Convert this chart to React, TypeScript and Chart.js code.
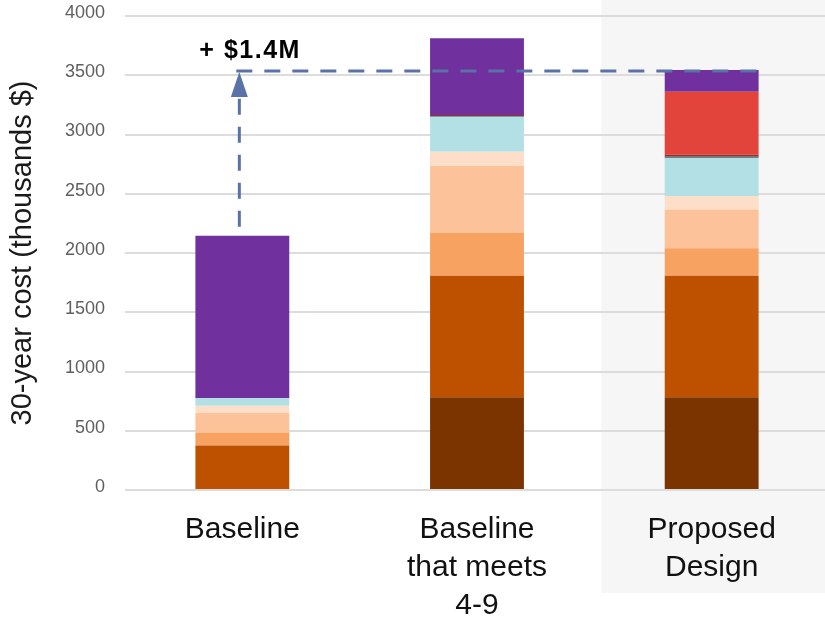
import React, { useEffect, useRef } from 'react';
import { Chart, registerables } from 'chart.js';

Chart.register(...registerables);

// ---- data ----
const categories: string[][] = [['Baseline'], ['Baseline', 'that meets', '4-9'], ['Proposed', 'Design']];

const seriesNames = [
  'Cost A', 'Cost B', 'Cost C', 'Cost D', 'Cost E',
  'Cost F', 'Cost G', 'Cost H', 'Cost I', 'Cost J',
];
const darkBrownValues = [0, 782, 782];
const darkOrangeValues = [375, 1026, 1026];
const mediumOrangeValues = [110, 361, 232];
const lightPeachValues = [164, 565, 328];
const palePeachValues = [62, 121, 113];
const lightBlueValues = [65, 290, 318];
const tealValues = [0, 10, 13];
const darkRedValues = [0, 10, 18];
const redValues = [0, 0, 531];
const purpleValues = [1369, 647, 183];

const seriesColors = [
  '#7B3400', '#BD5100', '#F8A262', '#FCC39A', '#FCDEC9',
  '#B2E0E5', '#4B8F95', '#9E2C2E', '#E2433A', '#70309E',
];

const yMin = 0;
const yMax = 4000;
const yStep = 500;
const yTitle = '30-year cost (thousands $)';

const allSeries = [
  darkBrownValues, darkOrangeValues, mediumOrangeValues, lightPeachValues, palePeachValues,
  lightBlueValues, tealValues, darkRedValues, redValues, purpleValues,
];

const FONT = '"Liberation Sans", Arial, Helvetica, sans-serif';

const bandPlugin = {
  id: 'band',
  beforeDraw(chart: any) {
    const { ctx, chartArea } = chart;
    const x = chart.scales.x;
    const c2 = x.getPixelForValue(2);
    const c1 = x.getPixelForValue(1);
    const left = c2 - (c2 - c1) * 0.47;
    ctx.save();
    ctx.fillStyle = '#F6F6F6';
    ctx.fillRect(left, 0, chart.width - left, chartArea.bottom + 103);
    ctx.restore();
  },
};

const annotationPlugin = {
  id: 'diffArrow',
  afterDatasetsDraw(chart: any) {
    const { ctx } = chart;
    const y = chart.scales.y;
    const totals = categories.map((_, i) => allSeries.reduce((s, d) => s + d[i], 0));
    const meta = chart.getDatasetMeta(allSeries.length - 1);
    const bar0 = meta.data[0];
    const bar2 = meta.data[2];
    const x0 = bar0.x - 3;
    const yTop = y.getPixelForValue(totals[2]);
    const yB = y.getPixelForValue(totals[0]);
    const color = '#5A72A8';
    ctx.save();
    ctx.strokeStyle = color;
    ctx.lineWidth = 3;
    ctx.setLineDash([16, 12]);
    ctx.beginPath();
    ctx.moveTo(x0, yB - 9);
    ctx.lineTo(x0, yTop + 27);
    ctx.stroke();
    ctx.beginPath();
    ctx.moveTo(x0 - 3, yTop + 1);
    ctx.lineTo(bar2.x + bar2.width / 2, yTop + 1);
    ctx.stroke();
    ctx.setLineDash([]);
    ctx.fillStyle = color;
    ctx.beginPath();
    ctx.moveTo(x0, yTop + 2);
    ctx.lineTo(x0 + 8.5, yTop + 27);
    ctx.lineTo(x0 - 8.5, yTop + 27);
    ctx.closePath();
    ctx.fill();
    const diff = (totals[2] - totals[0]) / 1000;
    ctx.fillStyle = '#000';
    ctx.font = `bold 25px ${FONT}`;
    try { (ctx as any).letterSpacing = '1.5px'; } catch (e) { /* ignore */ }
    ctx.textAlign = 'left';
    ctx.textBaseline = 'alphabetic';
    ctx.fillText(`+ $${diff.toFixed(1)}M`, x0 - 40, yTop - 12);
    ctx.restore();
  },
};

export default function App() {
  const canvasRef = useRef<HTMLCanvasElement | null>(null);

  useEffect(() => {
    if (!canvasRef.current) return;
    const chart = new Chart(canvasRef.current, {
      type: 'bar',
      data: {
        labels: categories,
        datasets: allSeries.map((d, i) => ({
          label: seriesNames[i],
          data: d,
          backgroundColor: seriesColors[i],
          borderWidth: 0,
          barPercentage: 0.4,
          categoryPercentage: 1,
        })),
      },
      options: {
        animation: false,
        responsive: true,
        maintainAspectRatio: false,
        layout: { padding: { top: 16, right: 0, bottom: 0, left: 0 } },
        plugins: {
          legend: { display: false },
          tooltip: { enabled: false },
        },
        scales: {
          x: {
            stacked: true,
            grid: { display: false, drawTicks: false },
            border: { display: false },
            ticks: {
              color: '#111',
              padding: 21,
              maxRotation: 0,
              autoSkip: false,
              font: { family: FONT, size: 30, lineHeight: '38px' as any },
            },
            afterFit(scale: any) { scale.height = 132; },
          },
          y: {
            stacked: true,
            min: yMin,
            max: yMax,
            grid: {
              color: '#DCDCDC',
              lineWidth: 2,
              drawTicks: true,
              tickLength: 20,
              tickColor: 'rgba(0,0,0,0)',
            },
            border: { display: false },
            ticks: {
              stepSize: yStep,
              color: '#5F5F5F',
              padding: 0,
              labelOffset: -3,
              font: { family: FONT, size: 18 },
              callback: (v: any) => String(v),
            },
            title: {
              display: true,
              text: yTitle,
              color: '#1A1A1A',
              padding: { top: 6, bottom: 0 },
              font: { family: FONT, size: 29 },
            },
            afterFit(scale: any) { scale.width = 125; },
          },
        },
      },
      plugins: [bandPlugin, annotationPlugin],
    });
    return () => chart.destroy();
  }, []);

  return (
    <div style={{ position: 'fixed', left: 0, top: 0, width: 829, height: 622, overflow: 'hidden' }}>
      <canvas ref={canvasRef} />
    </div>
  );
}
